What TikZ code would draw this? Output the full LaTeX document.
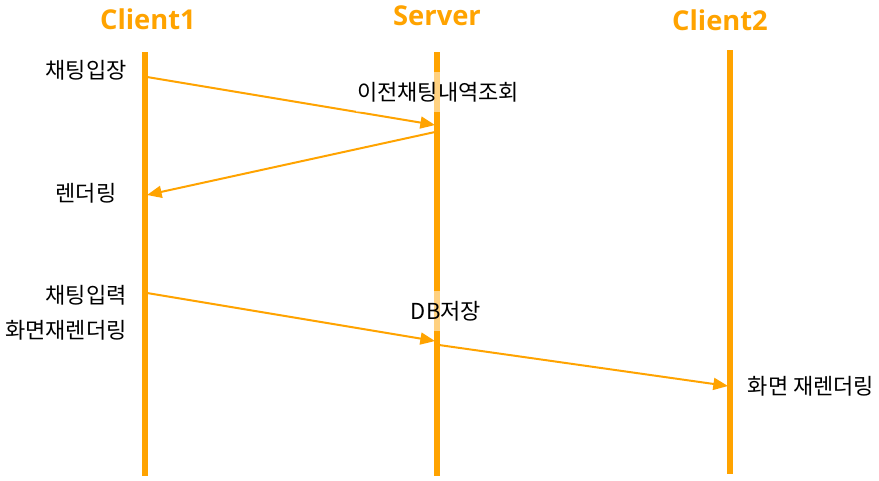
\documentclass[tikz,border=0pt]{standalone}
\usepackage{fontspec}
\setmainfont{Open Sans}
\newfontfamily\kofont{Noto Sans CJK KR}
\usetikzlibrary{arrows.meta}
\definecolor{lorange}{RGB}{255,163,0}
\begin{document}
\begin{tikzpicture}[x=0.75pt,y=-0.75pt,
  lifeline/.style={draw=lorange,line width=3.8pt},
  msg/.style={draw=lorange,line width=1.5pt,-{Triangle[length=11pt,width=9pt]}},
  title/.style={text=lorange,font=\fontsize{20.5}{24}\selectfont\bfseries,inner sep=0pt},
  lbl/.style={font=\kofont\fontsize{16.5}{19}\selectfont,inner sep=0pt,text=black},
  boxlbl/.style={lbl,fill=white,fill opacity=0.5,text opacity=1,inner xsep=1pt,minimum height=30pt}]
\useasboundingbox (0,0) rectangle (879,480);
% titles
\node[title] (t1) at (148,19) {Client1};
\node[title] (t2) at (437,16) {Server};
\node[title] (t3) at (720,20) {Client2};
% lifelines
\coordinate (c1top) at (145,52); \coordinate (c1bot) at (145,476);
\coordinate (svtop) at (437,52); \coordinate (svbot) at (437,476);
\coordinate (c2top) at (730,50); \coordinate (c2bot) at (730,474);
\draw[lifeline] (c1top) -- (c1bot);
\draw[lifeline] (svtop) -- (svbot);
\draw[lifeline] (c2top) -- (c2bot);
% message anchor points
\coordinate (m1s) at (147,77);  \coordinate (m1e) at (435,125);
\coordinate (m2s) at (435,132); \coordinate (m2e) at (147,195);
\coordinate (m3s) at (147,293); \coordinate (m3e) at (435,341);
\coordinate (m4s) at (439,345); \coordinate (m4e) at (728,386);
\draw[msg] (m1s) -- (m1e);
\draw[msg] (m2s) -- (m2e);
\draw[msg] (m3s) -- (m3e);
\draw[msg] (m4s) -- (m4e);
% labels
\node[lbl] (l1) at (86,70) {채팅입장};
\node[boxlbl] (l2) at (438,92) {이전채팅내역조회};
\node[lbl] (l3) at (86,193) {렌더링};
\node[lbl] (l4) at (86,295) {채팅입력};
\node[lbl] (l5) at (66,330) {화면재렌더링};
\node[boxlbl] (l6) at (446,311) {DB저장};
\node[lbl] (l7) at (811,386) {화면 재렌더링};
\end{tikzpicture}
\end{document}
